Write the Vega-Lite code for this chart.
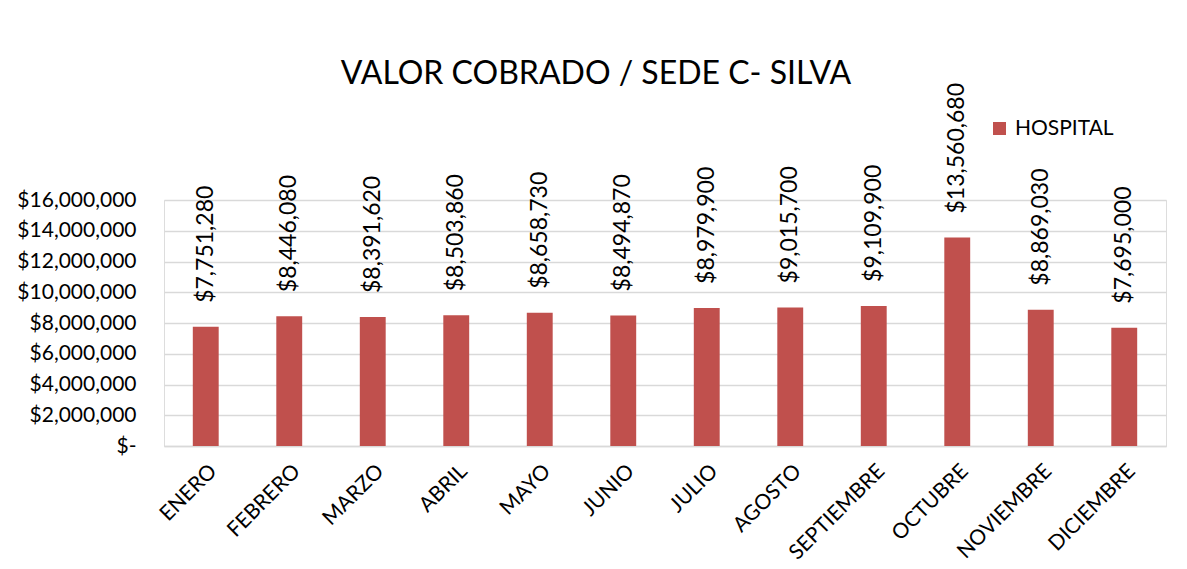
{
  "$schema": "https://vega.github.io/schema/vega-lite/v6.json",
  "autosize": {"type": "none"},
  "width": 1002,
  "height": 246,
  "padding": {"left": 164, "top": 200, "right": 21, "bottom": 123},
  "background": "white",
  "title": {
    "text": "VALOR COBRADO / SEDE C- SILVA",
    "font": "Lato",
    "fontSize": 32,
    "fontWeight": "normal",
    "color": "#000000",
    "anchor": "middle",
    "dx": -69,
    "offset": -8
  },
  "data": {
    "values": [
      {"mes": "ENERO", "serie": "HOSPITAL", "valor": 7751280},
      {"mes": "FEBRERO", "serie": "HOSPITAL", "valor": 8446080},
      {"mes": "MARZO", "serie": "HOSPITAL", "valor": 8391620},
      {"mes": "ABRIL", "serie": "HOSPITAL", "valor": 8503860},
      {"mes": "MAYO", "serie": "HOSPITAL", "valor": 8658730},
      {"mes": "JUNIO", "serie": "HOSPITAL", "valor": 8494870},
      {"mes": "JULIO", "serie": "HOSPITAL", "valor": 8979900},
      {"mes": "AGOSTO", "serie": "HOSPITAL", "valor": 9015700},
      {"mes": "SEPTIEMBRE", "serie": "HOSPITAL", "valor": 9109900},
      {"mes": "OCTUBRE", "serie": "HOSPITAL", "valor": 13560680},
      {"mes": "NOVIEMBRE", "serie": "HOSPITAL", "valor": 8869030},
      {"mes": "DICIEMBRE", "serie": "HOSPITAL", "valor": 7695000}
    ]
  },
  "encoding": {
    "x": {
      "field": "mes",
      "type": "nominal",
      "sort": null,
      "scale": {"paddingInner": 0.69, "paddingOuter": 0.345},
      "axis": {
        "title": null,
        "labelAngle": -45,
        "labelAlign": "right",
        "labelBaseline": "top",
        "labelFont": "Lato",
        "labelFontSize": 21,
        "labelColor": "#000000",
        "labelPadding": 14,
        "ticks": false,
        "domain": true,
        "domainColor": "#d9d9d9",
        "domainWidth": 1.5,
        "grid": false
      }
    },
    "y": {
      "field": "valor",
      "type": "quantitative",
      "scale": {"domain": [0, 16000000], "nice": false},
      "axis": {
        "title": null,
        "values": [0, 2000000, 4000000, 6000000, 8000000, 10000000, 12000000, 14000000, 16000000],
        "labelExpr": "datum.value == 0 ? '$-' : format(datum.value, '$,')",
        "labelFont": "Lato",
        "labelFontSize": 21,
        "labelColor": "#000000",
        "labelPadding": 28,
        "ticks": false,
        "domain": false,
        "grid": true,
        "gridColor": "#d9d9d9",
        "gridWidth": 1.5
      }
    }
  },
  "layer": [
    {
      "mark": {"type": "bar", "color": "#C0504D"},
      "encoding": {
        "color": {
          "field": "serie",
          "type": "nominal",
          "scale": {"range": ["#C0504D"]},
          "legend": {
            "title": null,
            "orient": "none",
            "legendX": 825,
            "legendY": -82,
            "symbolType": "square",
            "symbolSize": 169,
            "symbolStrokeWidth": 0,
            "labelFont": "Lato",
            "labelFontSize": 21,
            "labelColor": "#000000",
            "labelOffset": 5,
            "padding": 0
          }
        }
      }
    },
    {
      "mark": {
        "type": "text",
        "angle": 270,
        "align": "left",
        "baseline": "middle",
        "dx": 24,
        "font": "Lato",
        "fontSize": 23,
        "color": "#000000"
      },
      "encoding": {
        "text": {"field": "valor", "type": "quantitative", "format": "$,"}
      }
    }
  ]
}
